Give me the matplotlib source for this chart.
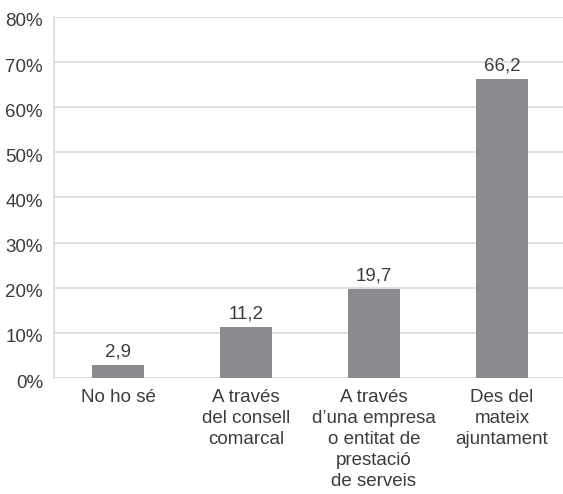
import matplotlib
matplotlib.use("Agg")
import matplotlib.pyplot as plt
import matplotlib.transforms as mtransforms

categories = [
    "No ho sé",
    "A través\ndel consell\ncomarcal",
    "A través\nd’una empresa\no entitat de\nprestació\nde serveis",
    "Des del\nmateix\najuntament",
]
values = [2.9, 11.2, 19.7, 66.2]
value_labels = ["2,9", "11,2", "19,7", "66,2"]
y_ticks = [0, 10, 20, 30, 40, 50, 60, 70, 80]
y_tick_labels = [f"{t}%" for t in y_ticks]

plt.rcParams["font.family"] = ["Liberation Sans", "DejaVu Sans"]
text_color = "#3c3c3c"
bar_color = "#8a8b8e"
grid_color = "#d9d9d9"
fs = 13.5

W, H = 563, 494
fig = plt.figure(figsize=(W / 100, H / 100), dpi=100)
left, right = 54 / W, 566 / W
top, bottom = 1 - 17 / H, 1 - 378 / H
ax = fig.add_axes([left, bottom, right - left, top - bottom])

x = list(range(len(categories)))
ax.bar(x, values, width=0.406, color=bar_color, zorder=3)
for xi, v, lab in zip(x, values, value_labels):
    ax.text(xi, v + 1.0, lab, ha="center", va="bottom", fontsize=fs,
            color=text_color)

ax.set_xlim(-0.5, 3.5)
ax.set_ylim(0, 80)
ax.set_yticks(y_ticks)
ax.set_yticklabels(y_tick_labels)
ax.set_xticks(x)
ax.set_xticklabels(categories, linespacing=1.3)
ax.tick_params(axis="both", length=0, labelsize=fs, labelcolor=text_color)
ax.tick_params(axis="y", pad=8)
ax.tick_params(axis="x", pad=8)

# nudge y labels slightly downward
shift = mtransforms.ScaledTranslation(0, -3 / 100, fig.dpi_scale_trans)
for lbl in ax.get_yticklabels():
    lbl.set_transform(lbl.get_transform() + shift)

ax.yaxis.grid(True, color=grid_color, linewidth=1.2, zorder=0)
for side in ["top", "right", "bottom"]:
    ax.spines[side].set_visible(False)
ax.spines["left"].set_color(grid_color)
ax.spines["left"].set_linewidth(1.2)

fig.savefig("out.png", dpi=100)
